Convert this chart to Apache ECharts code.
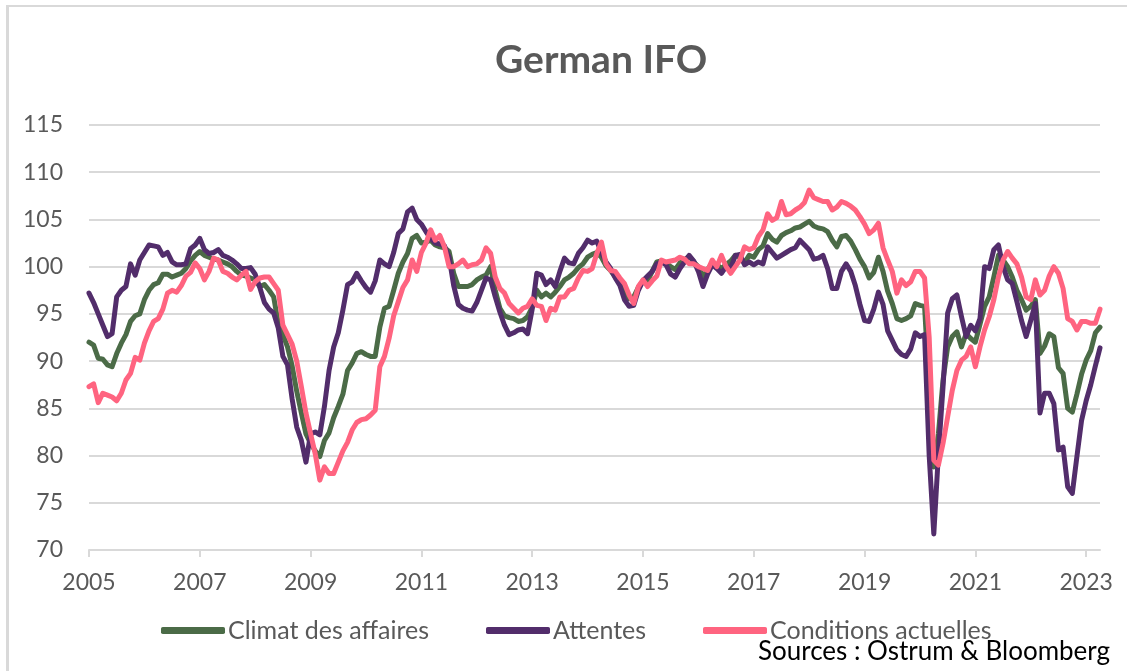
<!DOCTYPE html>
<html>
<head>
<meta charset="utf-8">
<title>German IFO</title>
<script src="https://cdn.jsdelivr.net/npm/echarts@6/dist/echarts.min.js"></script>
<style>
  html, body { margin: 0; padding: 0; background: #fff; }
  .frame {
    position: absolute; left: 6px; top: 5px; width: 1121px; height: 666px;
    border-left: 3px solid #d9d9d9; border-top: 2px solid #d9d9d9;
    box-sizing: border-box;
  }
  #chart { position: absolute; left: 0; top: 0; width: 1127px; height: 671px; }
</style>
</head>
<body>
<div class="frame"></div>
<div id="chart"></div>
<script>
// monthly, Jan 2005 -> Apr 2023
const startYear = 2005
const monthCount = 220
const months = []
for (let i = 0; i < monthCount; i++) {
  const y = startYear + Math.floor(i / 12)
  const m = (i % 12) + 1
  months.push(y + '-' + (m < 10 ? '0' + m : m))
}

// Climat des affaires
const climat = [
  92.0, 91.7, 90.3, 90.2, 89.6, 89.4, 90.8, 91.9, 92.8, 94.2, 94.8, 95.0, // 2005
  96.5, 97.5, 98.1, 98.3, 99.2, 99.2, 98.9, 99.1, 99.3, 99.8, 100.6, 101.2, // 2006
  101.6, 101.2, 101.0, 100.8, 100.7, 100.5, 100.3, 100.0, 99.5, 99.1, 99.0, 98.8, // 2007
  98.6, 97.9, 98.1, 97.5, 96.8, 94.0, 92.8, 91.5, 89.5, 86.8, 84.5, 82.3, // 2008
  81.3, 80.5, 79.9, 81.6, 82.4, 84.0, 85.2, 86.5, 89.0, 89.8, 90.8, 91.0, // 2009
  90.7, 90.5, 90.5, 93.6, 95.6, 95.8, 97.5, 99.3, 100.5, 101.4, 103.0, 103.3, // 2010
  102.5, 102.6, 102.8, 102.3, 102.1, 102.0, 101.6, 99.3, 97.9, 97.9, 97.9, 98.1, // 2011
  98.6, 98.9, 99.1, 100.0, 97.5, 95.6, 94.8, 94.6, 94.5, 94.2, 94.3, 94.7, // 2012
  95.7, 97.5, 96.8, 97.2, 96.8, 97.3, 97.9, 98.6, 98.9, 99.3, 99.9, 100.3, // 2013
  101.0, 101.3, 101.5, 101.0, 100.1, 99.6, 98.9, 98.4, 97.3, 96.6, 96.8, 97.8, // 2014
  98.5, 98.5, 99.5, 100.5, 100.6, 100.4, 100.0, 99.7, 100.4, 100.7, 101.1, 100.5, // 2015
  100.0, 98.9, 99.7, 100.4, 100.2, 99.8, 100.2, 100.6, 101.2, 101.0, 100.4, 101.2, // 2016
  101.0, 101.8, 102.2, 103.5, 102.9, 102.6, 103.3, 103.6, 103.8, 104.1, 104.2, 104.5, // 2017
  104.8, 104.3, 104.1, 104.0, 103.7, 102.8, 102.1, 103.2, 103.3, 102.7, 101.8, 100.8, // 2018
  100.0, 98.8, 99.4, 101.0, 99.5, 97.4, 96.1, 94.5, 94.3, 94.5, 94.8, 96.1, // 2019
  95.9, 95.8, 87.0, 78.8, 82.3, 88.0, 91.5, 92.6, 93.1, 91.5, 92.9, 92.4, // 2020
  92.0, 93.9, 95.8, 96.8, 98.9, 101.2, 100.7, 100.0, 98.9, 97.5, 96.5, 95.4, // 2021
  95.8, 96.5, 90.8, 91.6, 92.9, 92.6, 89.3, 88.7, 85.0, 84.6, 86.5, 88.6, // 2022
  90.1, 91.1, 93.0, 93.6 // 2023
]

// Attentes
const attentes = [
  97.2, 96.2, 95.0, 93.8, 92.6, 92.9, 96.8, 97.5, 97.9, 100.3, 99.1, 100.7, // 2005
  101.5, 102.3, 102.2, 102.1, 101.2, 101.5, 100.5, 100.2, 100.2, 100.3, 101.9, 102.3, // 2006
  103.0, 101.8, 101.4, 101.5, 101.8, 101.2, 101.0, 100.7, 100.3, 99.8, 99.8, 99.9, // 2007
  99.2, 97.8, 96.2, 95.5, 95.1, 93.5, 90.5, 89.6, 86.0, 83.0, 81.6, 79.3, // 2008
  82.3, 82.5, 82.2, 85.2, 89.0, 91.5, 93.0, 95.4, 98.1, 98.4, 99.3, 98.5, // 2009
  97.8, 97.3, 98.5, 100.7, 100.3, 100.0, 101.5, 103.5, 104.0, 105.8, 106.2, 105.0, // 2010
  104.5, 103.7, 103.0, 102.5, 102.4, 102.2, 101.0, 98.0, 96.0, 95.6, 95.4, 95.3, // 2011
  96.2, 97.5, 98.8, 98.6, 96.8, 95.2, 93.8, 92.8, 93.0, 93.3, 93.4, 92.9, // 2012
  95.5, 99.3, 99.1, 98.1, 98.6, 97.9, 99.5, 100.9, 100.4, 100.3, 101.4, 102.0, // 2013
  102.8, 102.5, 102.7, 101.5, 100.5, 99.8, 98.8, 98.0, 96.5, 95.8, 95.9, 97.5, // 2014
  98.5, 99.0, 99.5, 100.3, 100.5, 100.2, 99.2, 98.9, 99.8, 100.5, 101.2, 100.6, // 2015
  99.5, 97.9, 99.2, 100.2, 99.8, 99.3, 100.0, 99.8, 101.2, 101.3, 100.2, 100.5, // 2016
  100.2, 100.5, 100.3, 102.1, 101.5, 100.9, 101.2, 101.5, 101.8, 102.0, 102.8, 102.3, // 2017
  101.8, 100.8, 100.9, 101.2, 99.8, 97.7, 97.7, 99.5, 100.3, 99.5, 98.0, 96.0, // 2018
  94.3, 94.2, 95.5, 97.3, 96.0, 93.2, 92.2, 91.2, 90.7, 90.5, 91.3, 93.0, // 2019
  92.6, 92.8, 80.0, 71.7, 80.2, 87.3, 95.1, 96.6, 97.0, 94.7, 92.6, 93.8, // 2020
  93.2, 94.5, 100.0, 99.8, 101.8, 102.3, 100.0, 98.6, 98.2, 96.3, 94.3, 92.6, // 2021
  94.3, 96.1, 84.5, 86.6, 86.6, 85.5, 80.6, 80.9, 76.7, 76.0, 79.9, 83.7, // 2022
  85.8, 87.5, 89.5, 91.4 // 2023
]

// Conditions actuelles
const conditions = [
  87.3, 87.6, 85.6, 86.6, 86.4, 86.2, 85.8, 86.6, 88.0, 88.7, 90.4, 90.1, // 2005
  91.9, 93.2, 94.2, 94.5, 95.5, 97.2, 97.5, 97.3, 98.0, 99.0, 99.4, 100.4, // 2006
  99.8, 98.6, 99.5, 100.9, 100.7, 99.5, 99.3, 98.9, 98.6, 99.1, 99.5, 97.6, // 2007
  98.4, 98.8, 98.9, 98.9, 98.2, 97.5, 93.8, 92.8, 91.8, 90.0, 87.3, 84.5, // 2008
  82.3, 80.2, 77.4, 78.8, 78.1, 78.1, 79.3, 80.5, 81.4, 82.7, 83.5, 83.8, // 2009
  83.9, 84.3, 84.8, 89.4, 90.5, 92.4, 94.8, 96.3, 97.8, 98.6, 100.7, 99.5, // 2010
  101.5, 102.5, 103.9, 102.8, 103.3, 102.1, 100.0, 100.0, 100.3, 100.7, 100.0, 100.2, // 2011
  100.3, 100.7, 102.0, 101.4, 98.9, 97.7, 97.2, 96.1, 95.6, 95.1, 95.6, 95.8, // 2012
  96.6, 95.9, 95.8, 94.3, 95.6, 95.4, 96.8, 96.8, 97.5, 97.7, 98.8, 99.6, // 2013
  99.5, 99.8, 101.4, 102.6, 100.3, 99.6, 99.5, 98.8, 98.2, 97.0, 96.1, 97.9, // 2014
  98.6, 97.9, 98.5, 99.0, 100.7, 100.5, 100.6, 100.7, 101.0, 100.8, 100.3, 100.3, // 2015
  100.0, 99.8, 99.6, 100.7, 100.0, 101.2, 100.0, 99.3, 100.0, 100.7, 102.1, 101.8, // 2016
  102.0, 103.2, 103.9, 105.6, 104.9, 105.2, 106.9, 105.5, 105.6, 106.0, 106.3, 106.8, // 2017
  108.1, 107.3, 107.1, 106.9, 106.9, 106.0, 106.3, 106.9, 106.7, 106.4, 106.0, 105.3, // 2018
  104.5, 103.5, 103.9, 104.6, 102.0, 100.7, 99.5, 97.2, 98.6, 98.0, 98.4, 99.5, // 2019
  99.5, 98.8, 92.5, 79.5, 79.0, 81.3, 84.1, 86.9, 89.0, 90.1, 90.5, 91.5, // 2020
  89.4, 91.5, 93.3, 94.7, 96.5, 98.9, 100.7, 101.6, 100.9, 100.3, 98.9, 96.8, // 2021
  96.5, 98.6, 97.0, 97.5, 99.0, 100.0, 99.3, 97.7, 94.5, 94.2, 93.3, 94.2, // 2022
  94.2, 94.0, 94.0, 95.5 // 2023
]

const yTicks = { min: 70, max: 115, step: 5 }

const fontName = 'Lato, "Open Sans", sans-serif'
const grey = '#595959'

var myChart = echarts.init(document.getElementById('chart'))

function lineSeries (name, data, color, z) {
  return {
    name: name,
    type: 'line',
    data: data,
    showSymbol: false,
    symbol: 'none',
    z: z,
    lineStyle: { color: color, width: 5, cap: 'round', join: 'round' },
    itemStyle: { color: color }
  }
}

// one legend per item so each one sits where the original has it
function legendAt (name, left) {
  return {
    data: [name],
    left: left,
    top: 613,
    icon: 'roundRect',
    itemWidth: 64,
    itemHeight: 7,
    itemGap: 4,
    textStyle: { color: grey, fontSize: 25, fontFamily: fontName, padding: [0, 0, 0, -2] }
  }
}

myChart.setOption({
  animation: false,
  backgroundColor: 'transparent',
  title: [
    {
      text: 'German IFO',
      left: 490,
      top: 36,
      textStyle: { color: grey, fontSize: 39, fontWeight: 'bold', fontFamily: fontName }
    },
    {
      text: 'Sources : Ostrum & Bloomberg',
      right: 12,
      top: 634,
      textStyle: { color: '#000', fontSize: 26, fontWeight: 'normal', fontFamily: fontName }
    }
  ],
  legend: [
    legendAt('Climat des affaires', 156),
    legendAt('Attentes', 481),
    legendAt('Conditions actuelles', 698)
  ],
  grid: { left: 89, right: 27, top: 125, bottom: 121, containLabel: false },
  xAxis: {
    type: 'category',
    data: months,
    boundaryGap: false,
    axisLine: { lineStyle: { color: '#d9d9d9', width: 2 } },
    axisTick: {
      show: true,
      interval: function (i) { return i % 24 === 0 },
      length: 7,
      lineStyle: { color: '#d9d9d9', width: 2 }
    },
    axisLabel: {
      interval: function (i) { return i % 24 === 0 },
      formatter: function (v) { return v.split('-')[0] },
      color: grey,
      fontSize: 23,
      fontFamily: fontName,
      margin: 21
    },
    splitLine: { show: false }
  },
  yAxis: {
    type: 'value',
    min: yTicks.min,
    max: yTicks.max,
    interval: yTicks.step,
    axisLine: { show: false },
    axisTick: { show: false },
    axisLabel: { color: grey, fontSize: 23, fontFamily: fontName, margin: 26 },
    splitLine: { lineStyle: { color: '#d9d9d9', width: 2 } }
  },
  series: [
    lineSeries('Climat des affaires', climat, '#4b6b47', 2),
    lineSeries('Attentes', attentes, '#522d6b', 3),
    lineSeries('Conditions actuelles', conditions, '#ff6480', 4)
  ]
})
</script>
</body>
</html>
